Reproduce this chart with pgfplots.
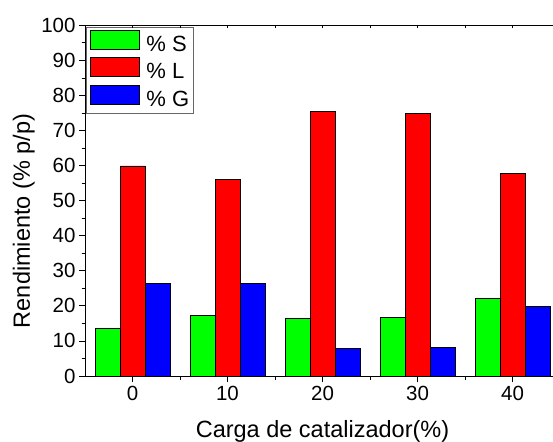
\documentclass[border=0pt]{standalone}
\usepackage{pgfplots}
\pgfplotsset{compat=1.18}
\usepackage{fontspec}
\setmainfont{Liberation Sans}
\definecolor{cS}{RGB}{0,255,0}
\definecolor{cL}{RGB}{255,0,0}
\definecolor{cG}{RGB}{0,0,255}
\begin{document}
\begin{tikzpicture}
\begin{axis}[
  at={(85pt,65pt)}, anchor=south west,
  scale only axis, width=475pt, height=350.7pt,
  xmin=-0.5, xmax=4.5, ymin=0, ymax=100,
  xtick={0,1,2,3,4}, xticklabels={0,10,20,30,40},
  minor x tick num=1,
  ytick={0,10,...,100}, minor y tick num=1,
  xtick pos=bottom, ytick pos=left,
  tick align=outside,
  major tick length=6pt, minor tick length=3.5pt,
  tick style={black, line width=0.8pt},
  axis line style={black, line width=1pt},
  /pgf/number format/assume math mode=true,
  tick label style={font=\fontsize{20.5}{24}\selectfont},
  xticklabel style={yshift=-1pt},
  ylabel={Rendimiento (\% p/p)},
  xlabel={Carga de catalizador(\%)},
  label style={font=\fontsize{23.5}{28}\selectfont},
  ylabel style={at={(axis description cs:-0.1158,0.442)}, anchor=base, rotate=0},
  xlabel style={at={(axis description cs:0.5,-0.175)}, anchor=base},
  ybar=0pt, bar width=25pt,
  every axis plot/.append style={draw=black, line width=0.7pt},
  legend style={at={(axis description cs:0,1)}, anchor=north west, xshift=1pt, yshift=-2pt,
    draw=black!60, line width=0.9pt, font=\fontsize{22}{26}\selectfont,
    inner xsep=3pt, inner ysep=2pt, row sep=1pt,
    nodes={inner sep=1pt, text height=15.5pt, text depth=4pt}},
  legend cell align=left,
  legend image code/.code={\draw[#1, draw=black, line width=0.7pt] (1pt,-3.5pt) rectangle (50pt,15.5pt); \path[draw=none, fill=none] (0pt,0pt) -- (56pt,0pt);},
]
\addplot[fill=cS] coordinates {(0,13.6) (1,17.3) (2,16.5) (3,16.7) (4,22.0)};
\addplot[fill=cL] coordinates {(0,59.9) (1,56.1) (2,75.5) (3,74.9) (4,57.8)};
\addplot[fill=cG] coordinates {(0,26.4) (1,26.4) (2,7.9) (3,8.2) (4,19.9)};
\legend{\% S, \% L, \% G}
\end{axis}
\begin{axis}[
  at={(85pt,65pt)}, anchor=south west,
  scale only axis, width=475pt, height=350.7pt,
  xmin=-0.5, xmax=4.5, ymin=0, ymax=100,
  xtick={0,1,2,3,4}, xticklabels={}, minor x tick num=1,
  ytick=\empty, xtick pos=top, tick align=inside,
  major tick length=3pt, minor tick length=3pt,
  tick style={black, line width=0.8pt},
  axis line style={draw=none},
]
\end{axis}
\pgfresetboundingbox
\path[use as bounding box] (0,0) rectangle (553pt,441pt);
\end{tikzpicture}
\end{document}
